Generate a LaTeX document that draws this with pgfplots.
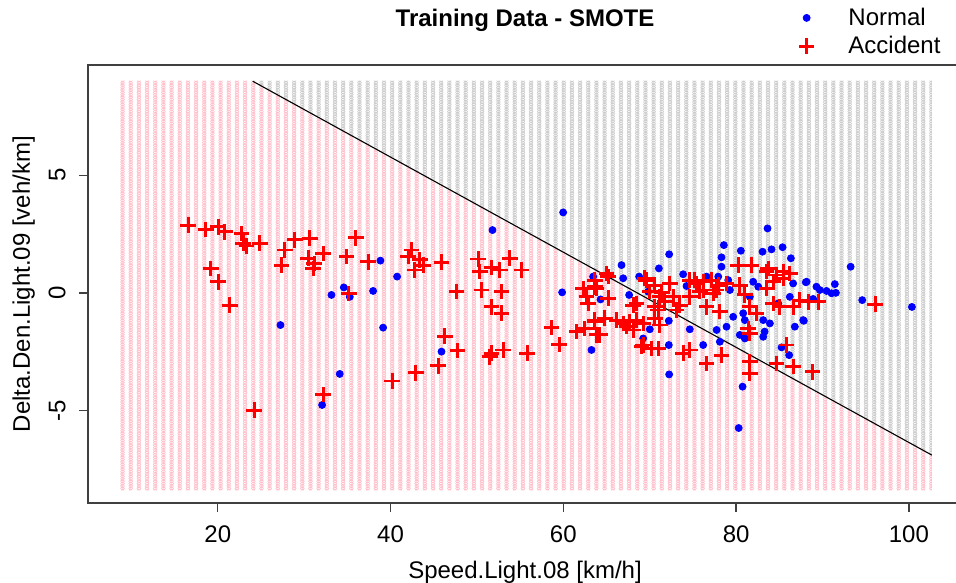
\documentclass[border=0pt]{standalone}
\usepackage{pgfplots}
\pgfplotsset{compat=1.18}
\usepackage{fontspec}
\setmainfont{Liberation Sans}
\usetikzlibrary{patterns.meta}
\definecolor{rpink}{RGB}{255,192,203}
\definecolor{rgray}{RGB}{205,205,205}
\definecolor{rblue}{RGB}{0,0,255}
\definecolor{rred}{RGB}{255,0,0}
\tikzdeclarepattern{
  name=circgrid,
  type=uncolored,
  bounding box={(-2.0425pt,-0.6pt) and (2.0425pt,0.6pt)},
  tile size={(4.085pt,1.2pt)},
  code={
    \draw[line width=0.3pt] (0pt,0pt) circle[radius=0.95pt];
    \draw[line width=0.3pt] (0pt,1.2pt) circle[radius=0.95pt];
    \draw[line width=0.3pt] (0pt,-1.2pt) circle[radius=0.95pt];
  }
}
\begin{document}
\begin{tikzpicture}
\begin{axis}[
  scale only axis, width=437pt, height=219pt,
  xmin=4.98, xmax=106.15, ymin=-8.94, ymax=9.69,
  axis line style={black!75, line width=0.7pt},
  xtick={20,40,60,80,100}, xticklabels={20,40,60,80,100},
  ytick={-5,0,5}, yticklabels={-5,0,5},
  xtick pos=lower, ytick pos=left,
  tick align=outside, major tick length=4.5pt,
  tick style={black!75, line width=0.7pt},
  ticklabel style={font=\fontsize{12}{14}\selectfont},
  xticklabel style={anchor=base, yshift=-15.4pt},
  yticklabel style={rotate=90, anchor=base, yshift=6.8pt},
  title={Training Data - SMOTE},
  title style={at={(axis description cs:0.5,1)}, anchor=base, yshift=13.25pt, font=\fontsize{12}{14}\selectfont\bfseries},
  xlabel={Speed.Light.08 [km/h]},
  xlabel style={at={(axis description cs:0.5,-0.1717)}, anchor=base, font=\fontsize{12}{14}\selectfont},
  ylabel={Delta.Den.Light.09 [veh/km]},
  ylabel style={at={(axis description cs:-0.0664,0.5)}, anchor=base, font=\fontsize{12}{14}\selectfont},
  legend style={draw=none, fill=none, at={(axis description cs:0.806,1.150)}, anchor=north west,
    font=\fontsize{12}{14}\selectfont, row sep=0pt,
    /tikz/every odd column/.append style={column sep=15pt}},
  legend cell align=left,
  legend image code/.code={\draw[#1] plot coordinates {(0pt,0pt)};},
]
% background grid of the classifier (pink = Accident side, gray = Normal side)
\addplot[draw=none, pattern={circgrid}, pattern color=rpink, forget plot] coordinates {
  (8.5,-8.4) (102.65,-8.4) (102.65,-6.9) (23.9,9.03) (8.5,9.03) (8.5,-8.4)};
\addplot[draw=none, pattern={circgrid}, pattern color=rgray, forget plot] coordinates {
  (23.9,9.03) (102.65,9.03) (102.65,-6.9) (23.9,9.03)};
% decision boundary
\addplot[black, line width=0.55pt, forget plot] coordinates {(24.05,9.0) (102.65,-6.9)};
% Normal
\addplot[only marks, mark=*, mark size=1.75pt, color=rblue, mark options={draw=rblue, fill=rblue}] coordinates {
(27.26,-1.37) (38.83,1.37) (40.76,0.69) (34.59,0.23) (33.16,-0.09) (35.28,-0.17)
(37.98,0.08) (39.14,-1.48) (45.9,-2.5) (34.12,-3.45) (32.08,-4.77) (59.98,3.42)
(51.8,2.67) (59.86,0.02) (63.45,0.69) (63.26,-2.43) (64.31,-0.28) (72.25,1.64)
(66.74,1.18) (71.06,1.04) (66.93,0.62) (68.78,0.69) (73.87,0.79) (67.62,-0.09)
(69.82,0.05) (72.21,-1.19) (70.01,-1.55) (69.24,-1.94) (74.64,-1.55) (72.21,-2.22)
(76.19,-2.22) (72.25,-3.47) (76.58,0.69) (74.26,0.29) (83.64,2.74) (78.58,2.03)
(80.55,1.79) (83.06,1.75) (84.1,1.85) (85.38,1.94) (78.31,1.51) (78.31,1.11)
(86.34,1.47) (77.93,0.69) (79.09,0.54) (81.98,0.47) (82.56,0.26) (86.6,0.40)
(88.16,0.47) (79.28,0.12) (81.59,-0.17) (86.22,-0.17) (80.82,-0.87) (79.66,-1.02)
(81.01,-1.16) (83.14,-1.16) (83.91,-1.30) (86.8,-1.44) (87.77,-1.16) (78.89,-1.44)
(80.43,-1.79) (83.14,-1.87) (83.3,-1.65) (81.01,-1.94) (77.74,-1.58) (78.12,-2.08)
(85.26,-2.32) (86.14,-2.65) (80.75,-3.99) (84.87,-0.45) (93.26,1.11) (88.07,0.45)
(89.3,0.26) (89.69,0.12) (90.47,0.08) (91.05,-0.02) (91.55,0.0) (91.43,0.37)
(88.92,-0.26) (94.6,-0.31) (100.35,-0.60) (87.84,-1.19) (80.3,-5.75)
};
\addlegendentry{Normal}
% Accident
\addplot[only marks, mark=+, mark size=3.9pt, color=rred, line width=1.45pt] coordinates {
(16.57,2.88) (18.61,2.70) (20.04,2.81) (20.81,2.60) (22.74,2.53) (22.93,2.11)
(23.32,1.99) (24.86,2.11) (27.76,1.82) (27.37,1.18) (28.92,2.25) (30.65,2.32)
(30.46,1.47) (31.04,1.04) (31.16,1.25) (19.19,1.04) (20.04,0.47) (21.39,-0.52)
(24.21,-4.99) (32.2,1.68) (35.98,2.34) (34.9,1.54) (37.4,1.32) (35.17,-0.02)
(42.42,1.82) (42.03,1.54) (43.39,1.40) (42.81,0.97) (43.77,1.18) (45.9,1.30)
(47.63,0.05) (46.28,-1.84) (47.75,-2.46) (45.51,-3.1) (42.92,-3.40) (40.18,-3.75)
(32.19,-4.32) (50.14,1.44) (50.33,0.9) (51.69,1.08) (52.65,0.97) (53.81,1.47)
(55.16,0.97) (50.53,0.12) (52.85,0.05) (51.69,-0.59) (52.85,-0.87) (51.49,-2.72)
(51.69,-2.57) (53.03,-2.43) (55.81,-2.57) (58.63,-1.48) (59.52,-2.19) (62.29,0.19)
(62.68,-0.17) (62.87,-0.45) (61.53,-1.65) (62.49,-1.51) (63.65,-1.23) (63.84,-1.79)
(63.65,0.26) (65.0,0.83) (63.65,0.54) (63.84,0.19) (65.19,-0.23) (68.08,-0.52)
(69.44,0.62) (70.6,0.33) (72.33,0.40) (70.01,0.05) (71.17,-0.17) (72.71,-0.17)
(71.75,-0.38) (70.6,-0.59) (73.49,-0.52) (74.64,-0.17) (74.64,0.54) (75.42,0.40)
(76.19,0.12) (63.65,-1.16) (64.8,-1.08) (64.22,-1.79) (66.16,-1.16) (66.93,-1.30)
(67.7,-1.23) (68.47,-1.16) (68.08,-1.58) (67.31,-1.44) (69.24,-1.30) (70.6,-1.08)
(71.17,-1.37) (70.98,-0.73) (69.24,-2.22) (70.2,-2.36) (70.98,-2.36) (73.87,-2.57)
(74.64,-2.43) (76.58,-3.0) (68.47,-0.45) (73.1,-0.73) (80.24,1.18) (81.79,1.18)
(83.53,0.90) (84.68,0.76) (86.22,0.83) (76.19,0.47) (77.16,0.54) (77.93,0.33)
(78.89,0.40) (75.8,0.05) (77.34,-0.02) (80.43,0.33) (81.01,-0.09) (83.53,0.19)
(84.29,0.47) (85.45,0.62) (86.6,-0.59) (87.38,-0.31) (76.58,-0.59) (78.12,-0.80)
(81.59,-0.59) (82.36,-0.87) (84.29,-0.45) (85.06,-0.59) (81.39,-1.51) (81.59,-1.72)
(85.84,-2.22) (78.31,-2.65) (81.59,-2.93) (81.59,-3.42) (84.68,-3.0) (86.6,-3.14)
(88.34,-0.38) (89.5,-0.38) (96.1,-0.48) (88.85,-3.36) (83.7,1.04) (85.45,0.9)
(65.2,0.69) (69.6,0.54) (71.4,0.0) (75.2,0.54) (77.7,0.12) (69.05,-2.29)
};
\addlegendentry{Accident}
\end{axis}
\pgfresetboundingbox
\path[use as bounding box] ([xshift=-44pt,yshift=-39.5pt]current axis.south west) rectangle ([xshift=-3pt,yshift=32.5pt]current axis.north east);
\end{tikzpicture}
\end{document}
